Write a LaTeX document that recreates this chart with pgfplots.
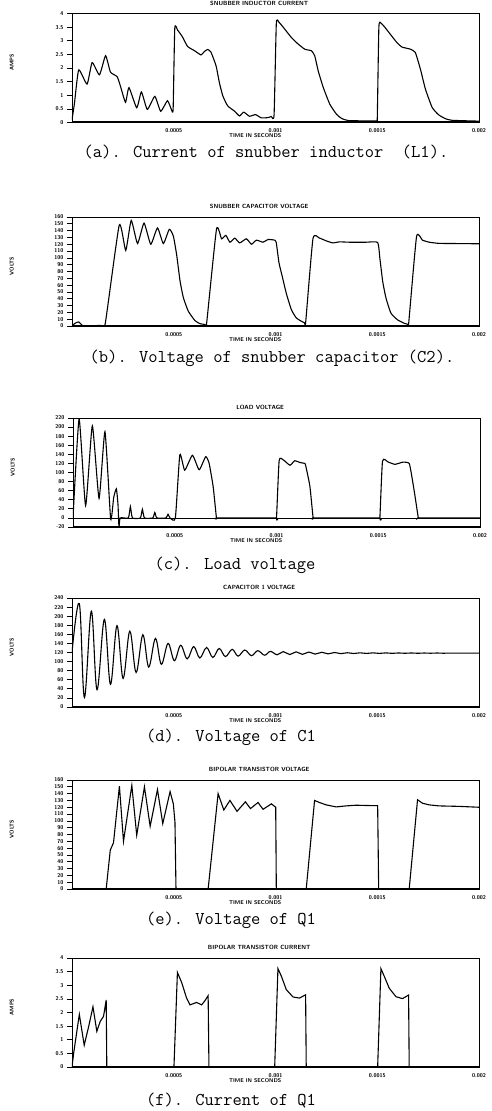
\documentclass[border=0pt]{standalone}
\usepackage{fontspec}
\usepackage{pgfplots}
\pgfplotsset{compat=1.18}

% one oscillogram panel, 1pt = 1px of the scan
\pgfplotsset{osc/.style={
  scale only axis, width=407pt, height=109pt,
  xmin=0, xmax=2,
  xtick={0.5,1,1.5,2},
  xticklabels={0.0005,0.001,0.0015,0.002},
  xtick pos=bottom, ytick pos=left,
  tick align=outside, major tick length=5pt,
  axis line style={line width=0.9pt},
  tick style={line width=0.7pt, black},
  x tick style={draw=none},
  tick label style={font=\fontsize{5.5}{6}\selectfont\sffamily\bfseries},
  x tick label style={yshift=2pt},
  /pgf/number format/assume math mode=true,
  xlabel={TIME IN SECONDS},
  xlabel style={font=\fontsize{5.5}{6}\selectfont\sffamily\bfseries, at={(axis description cs:0.45,0)}, anchor=north, yshift=-8pt},
  title style={font=\fontsize{6}{6}\selectfont\sffamily\bfseries, at={(axis description cs:0.46,1)}, anchor=south, yshift=-1.5pt},
  ylabel style={font=\fontsize{5.5}{6}\selectfont\sffamily\bfseries, at={(axis description cs:-0.148,0.55)}, anchor=center},
  cycle list={black\\},
  no markers,
  every axis plot/.append style={line width=1.1pt, smooth, tension=0.3},
}}
\newcommand{\thickbase}{\draw[line width=2.5pt] (rel axis cs:0,0) -- (rel axis cs:1,0);}
\newcommand{\capfont}{\fontsize{18}{20}\selectfont\ttfamily}

\begin{document}
\begin{tikzpicture}
\useasboundingbox (0pt,0pt) rectangle (492pt,-1111pt);

% (a) snubber inductor current
\begin{axis}[osc, at={(72pt,-13.5pt)}, anchor=north west,
  title={SNUBBER INDUCTOR CURRENT}, ylabel={AMPS},
  ymin=0, ymax=4, ytick={0,0.5,...,4}]
\addplot coordinates {
(0,0.1) (0.012,0.7) (0.033,1.93) (0.074,1.41) (0.099,2.2) (0.135,1.75)
(0.165,2.45) (0.189,1.85) (0.222,1.68) (0.239,1.31) (0.263,0.74) (0.280,1.28)
(0.318,0.54) (0.341,1.12) (0.370,0.48) (0.407,0.96) (0.436,0.41) (0.469,0.8)
(0.489,0.47) (0.497,0.5) (0.505,3.45) (0.519,3.39) (0.543,3.14) (0.568,2.79)
(0.601,2.64) (0.634,2.48) (0.650,2.6) (0.667,2.68) (0.683,2.58) (0.708,2.08)
(0.724,1.47) (0.741,0.98) (0.765,0.61) (0.798,0.42) (0.823,0.24) (0.844,0.38)
(0.872,0.23) (0.902,0.29) (0.930,0.17) (0.963,0.18) (0.979,0.22) (0.993,0.28)
(1.004,3.62) (1.017,3.68) (1.045,3.43) (1.078,3.12) (1.111,2.88) (1.144,2.69)
(1.177,2.63) (1.193,2.44) (1.210,1.89) (1.235,1.28) (1.267,0.67) (1.300,0.30)
(1.325,0.15) (1.358,0.07) (1.450,0.06) (1.495,0.06) (1.500,0.1) (1.508,3.5) (1.519,3.64) (1.539,3.48)
(1.564,3.24) (1.597,2.93) (1.621,2.77) (1.663,2.69) (1.687,2.57) (1.712,1.96)
(1.737,1.22) (1.770,0.55) (1.802,0.28) (1.835,0.14) (1.868,0.08) (2.0,0.05)
};
\thickbase
\end{axis}

% (b) snubber capacitor voltage
\begin{axis}[osc, at={(72pt,-217pt)}, anchor=north west,
  title={SNUBBER CAPACITOR VOLTAGE}, ylabel={VOLTS},
  ymin=0, ymax=160, ytick={0,10,...,160}]
\addplot coordinates {
(0,0) (0.015,4) (0.033,6) (0.057,0) (0.139,1) (0.163,3)
(0.232,148) (0.264,111) (0.291,155) (0.322,121) (0.354,151) (0.387,120)
(0.420,144) (0.449,121) (0.478,142) (0.498,132) (0.514,105) (0.531,66)
(0.547,42) (0.571,22) (0.604,8) (0.629,3.4) (0.653,2.3) (0.661,2.5)
(0.710,142) (0.735,128) (0.756,133) (0.776,123) (0.800,129) (0.824,122)
(0.857,128) (0.882,120) (0.906,126) (0.939,123) (0.963,127) (0.996,126)
(1.004,122) (1.017,93) (1.033,73) (1.053,48) (1.078,24) (1.102,12)
(1.127,7) (1.143,4.6) (1.148,4.5) (1.184,128) (1.216,129) (1.249,125)
(1.282,122) (1.314,123.5) (1.363,123) (1.445,123) (1.502,122.7) (1.513,99)
(1.527,65) (1.543,41) (1.567,19) (1.600,9) (1.633,4) (1.649,2.6)
(1.654,2.5) (1.693,131) (1.722,126) (1.755,123) (1.804,121.3) (1.902,121)
(2.0,120.7)
};
\thickbase
\end{axis}

% (c) load voltage
\begin{axis}[osc, at={(73pt,-418pt)}, anchor=north west,
  title={LOAD VOLTAGE}, ylabel={VOLTS},
  ymin=-20, ymax=220, ytick={-20,0,...,220}]
\addplot[black, line width=0.6pt, sharp plot] coordinates {(0,0) (2,0)};
\addplot coordinates {
(0,0) (0.030,218) (0.062,27) (0.095,203) (0.128,43) (0.157,190)
(0.185,-2) (0.200,45) (0.213,64) (0.221,30) (0.226,-20) (0.232,0)
(0.272,0) (0.282,25) (0.292,0) (0.331,0) (0.341,19) (0.351,0)
(0.392,0) (0.402,12) (0.412,0) (0.457,0) (0.467,8) (0.477,0)
(0.503,0) (0.525,139) (0.549,105) (0.587,138) (0.620,106) (0.652,135)
(0.669,120) (0.689,68) (0.705,0) (0.712,0) (0.993,0) (1.000,0) (1.013,126) (1.033,128)
(1.066,116) (1.090,126) (1.115,122) (1.139,120) (1.144,114) (1.164,70)
(1.180,0) (1.187,0) (1.502,0) (1.508,0) (1.521,125) (1.549,123) (1.582,118) (1.623,123)
(1.652,120) (1.664,94) (1.680,50) (1.697,0) (1.704,0) (2.0,0)
};
\thickbase
\end{axis}

% (d) capacitor 1 voltage
\begin{axis}[osc, at={(72pt,-598pt)}, anchor=north west,
  title={CAPACITOR 1 VOLTAGE}, ylabel={VOLTS},
  ymin=0, ymax=240, ytick={0,20,...,240}]
\addplot+[tension=0.6] coordinates {
(0,120) (0.036,227.6) (0.061,21) (0.095,211) (0.123,38) (0.159,193)
(0.189,50) (0.221,179) (0.251,63) (0.284,167) (0.315,76) (0.348,159)
(0.377,88) (0.410,151) (0.439,94) (0.472,140) (0.503,102) (0.534,136)
(0.566,106) (0.598,133) (0.628,108) (0.661,131) (0.692,109) (0.723,129)
(0.754,111) (0.787,127) (0.816,112) (0.849,125.5) (0.882,113) (0.913,124)
(0.946,114) (0.975,122.5) (1.008,115) (1.038,122) (1.070,115.5) (1.101,121.5)
(1.132,116) (1.164,121) (1.195,116.5) (1.227,120.5) (1.258,117) (1.290,120)
(1.321,117.5) (1.353,119.5) (1.384,117.8) (1.416,119.3) (1.447,118) (1.479,119.2)
(1.510,118.1) (1.542,119.1) (1.573,118.2) (1.605,119) (1.636,118.3) (1.668,119)
(1.699,118.3) (1.731,118.9) (1.762,118.4) (1.794,118.9) (1.825,118.4) (1.857,118.8)
(1.888,118.5) (1.920,118.8) (1.951,118.5) (1.983,118.7) (2.0,118.6)
};
\thickbase
\end{axis}

% (e) bipolar transistor voltage
\begin{axis}[osc, at={(72pt,-780pt)}, anchor=north west,
  title={BIPOLAR TRANSISTOR VOLTAGE}, ylabel={VOLTS},
  ymin=0, ymax=160, ytick={0,10,...,160}]
\addplot+[sharp plot] coordinates {
(0,0) (0.168,0) (0.188,57) (0.204,68) (0.233,151) (0.253,70)
(0.294,152) (0.318,79) (0.356,150) (0.384,92) (0.420,146) (0.446,96)
(0.482,143) (0.498,125) (0.506,98) (0.511,0) (0.669,0) (0.718,140)
(0.746,116) (0.776,130) (0.811,114) (0.852,128) (0.877,118) (0.914,127)
(0.939,117) (0.980,125) (1.001,120) (1.004,0) (1.151,0) (1.192,130)
(1.216,127) (1.249,123.5) (1.298,120.5) (1.347,122) (1.396,123) (1.445,122.6)
(1.502,122.3) (1.507,0) (1.657,0) (1.698,131) (1.722,126) (1.755,123.5)
(1.804,122) (1.902,121.3) (2.0,120)
};
\thickbase
\end{axis}

% (f) bipolar transistor current
\begin{axis}[osc, at={(72pt,-958pt)}, anchor=north west,
  title={BIPOLAR TRANSISTOR CURRENT}, ylabel={AMPS},
  ymin=0, ymax=4, ytick={0,0.5,...,4}]
\addplot+[sharp plot] coordinates {
(0,0) (0.008,0.5) (0.036,1.93) (0.060,0.8) (0.082,1.49) (0.103,2.21)
(0.122,1.31) (0.139,1.68) (0.155,1.86) (0.168,2.46) (0.171,0) (0.501,0)
(0.518,3.47) (0.539,3.1) (0.563,2.53) (0.580,2.28) (0.612,2.37) (0.637,2.28)
(0.653,2.43) (0.669,2.62) (0.673,0) (0.996,0) (1.012,3.61) (1.029,3.33)
(1.053,2.84) (1.086,2.57) (1.118,2.53) (1.148,2.65) (1.151,0) (1.502,0)
(1.518,3.61) (1.535,3.32) (1.559,2.89) (1.592,2.58) (1.624,2.51) (1.654,2.64)
(1.657,0) (2.0,0)
};
\thickbase
\end{axis}

\node[font=\capfont] at (266pt,-152pt) {(a). Current of snubber inductor~~(L1).};
\node[font=\capfont] at (272pt,-358pt) {(b). Voltage of snubber capacitor (C2).};
\node[font=\capfont] at (235pt,-565pt) {(c). Load voltage};
\node[font=\capfont] at (231pt,-737pt) {(d). Voltage of C1};
\node[font=\capfont] at (231pt,-920pt) {(e). Voltage of Q1};
\node[font=\capfont] at (231pt,-1100pt) {(f). Current of Q1};
\end{tikzpicture}
\end{document}
